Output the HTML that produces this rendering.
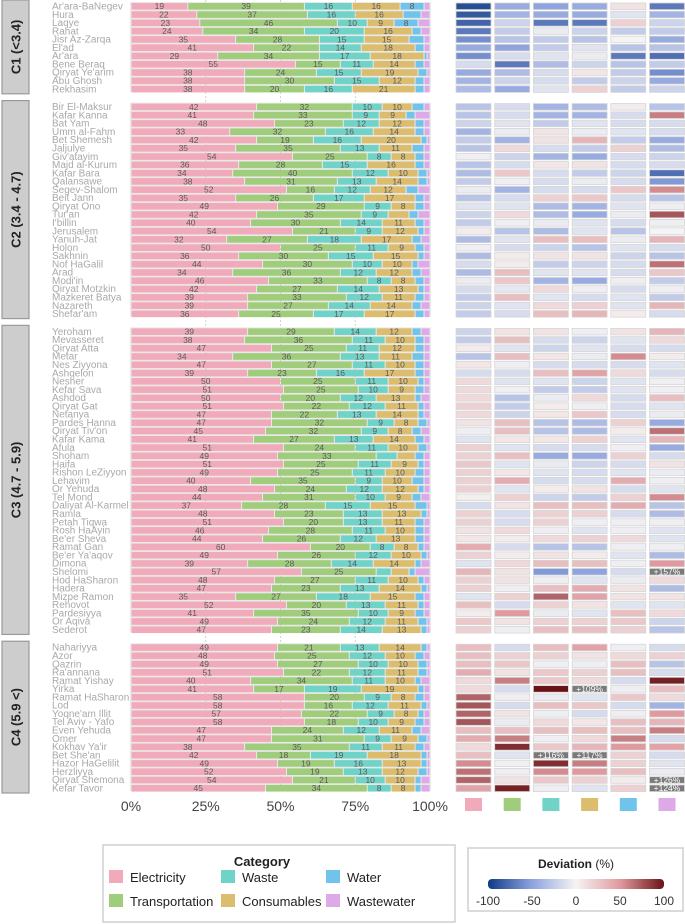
<!DOCTYPE html>
<html><head><meta charset="utf-8"><style>
html,body{margin:0;padding:0;background:#fff;}
svg{display:block;font-family:"Liberation Sans",sans-serif;}
</style></head><body>
<svg id="chart" width="685" height="924" viewBox="0 0 685 924"></svg>
<script>
const groupNames = ["C1   (<3.4)","C2   (3.4 - 4.7)","C3   (4.7 - 5.9)","C4   (5.9 <)"];
const groupSizes = [11,26,37,18];
const cities = ["Ar'ara-BaNegev","Hura","Laqye","Rahat","Jisr Az-Zarqa","El'ad","Ar'ara","Bene Beraq","Qiryat Ye'arim","Abu Ghosh","Rekhasim",
"Bir El-Maksur","Kafar Kanna","Bat Yam","Umm al-Fahm","Bet Shemesh","Jaljulye","Giv'atayim","Majd al-Kurum","Kafar Bara","Qalansawe","Segev-Shalom","Beit Jann","Qiryat Ono","Tur'an","I'billin","Jerusalem","Yanuh-Jat","Holon","Sakhnin","Nof HaGalil","Arad","Modi'in","Qiryat Motzkin","Mazkeret Batya","Nazareth","Shefar'am",
"Yeroham","Mevasseret","Qiryat Atta","Metar","Nes Ziyyona","Ashqelon","Nesher","Kefar Sava","Ashdod","Qiryat Gat","Netanya","Pardes Hanna","Qiryat Tiv'on","Kafar Kama","Afula","Shoham","Haifa","Rishon LeZiyyon","Lehavim","Or Yehuda","Tel Mond","Daliyat Al-Karmel","Ramla","Petah Tiqwa","Rosh HaAyin","Be'er Sheva","Ramat Gan","Be'er Ya'aqov","Dimona","Shelomi","Hod HaSharon","Hadera","Mizpe Ramon","Rehovot","Pardesiyya","Or Aqiva","Sederot",
"Nahariyya","Azor","Qazrin","Ra'annana","Ramat Yishay","Yirka","Ramat HaSharon","Lod","Yoqne'am Illit","Tel Aviv - Yafo","Even Yehuda","Omer","Kokhav Ya'ir","Bet She'an","Hazor HaGelilit","Herzliyya","Qiryat Shemona","Kefar Tavor"];
const categories = ["Electricity","Transportation","Waste","Consumables","Water","Wastewater"];
const shares = [
[19,39,16,16,8,2],[22,37,16,16,6,3],[23,46,10,9,8,4],[24,34,20,16,3,3],[35,28,15,15,5,2],[41,22,14,18,3,2],[29,34,17,18,1,1],[55,15,11,14,3,2],[38,24,15,19,3,1],[38,30,15,12,3,2],[38,20,16,21,3,2],
[42,32,10,10,4,2],[41,33,9,9,3,5],[48,23,12,12,3,2],[33,32,16,14,3,2],[42,19,16,20,2,1],[35,35,13,11,4,2],[54,25,8,8,3,2],[36,28,15,16,3,2],[34,40,12,10,3,1],[38,31,13,14,3,1],[52,16,12,12,4,4],[35,26,17,17,3,2],[49,29,9,8,3,2],[42,35,9,7,3,4],[40,30,14,11,3,2],[54,21,9,12,2,2],[32,27,18,17,3,3],[50,25,11,9,3,2],[36,30,15,15,2,2],[44,30,10,10,2,4],[34,36,12,12,3,3],[46,33,8,8,3,2],[42,27,14,13,2,2],[39,33,12,11,3,2],[39,27,14,14,3,3],[36,25,17,17,3,2],
[39,29,14,12,3,3],[38,36,11,10,3,2],[47,25,11,12,3,2],[34,36,13,11,4,2],[47,27,11,10,3,2],[39,23,16,17,3,2],[50,25,11,10,2,2],[51,25,10,9,3,2],[50,20,12,13,2,3],[51,22,12,11,2,2],[47,22,13,14,2,2],[47,32,9,8,3,1],[45,32,9,8,3,3],[41,27,13,14,3,2],[51,24,11,10,3,1],[49,33,7,6,3,2],[51,25,11,9,2,2],[49,25,11,10,3,2],[40,35,9,10,4,2],[48,24,12,12,2,2],[44,31,10,9,3,3],[37,28,15,15,4,1],[48,23,13,13,2,1],[51,20,13,11,3,2],[46,28,11,10,3,2],[44,26,12,13,3,2],[60,20,8,8,2,2],[49,26,12,10,2,1],[39,28,14,14,2,3],[57,25,5,6,2,5],[48,27,11,10,2,2],[47,23,13,14,2,1],[35,27,18,15,3,2],[52,20,13,11,2,2],[41,35,10,9,3,2],[49,24,12,11,3,1],[47,23,14,13,2,1],
[49,21,13,14,2,1],[48,25,12,10,3,2],[49,27,10,10,3,1],[51,22,12,11,3,1],[40,34,11,10,2,3],[41,17,19,19,2,2],[58,20,9,8,3,2],[58,16,12,11,2,1],[57,22,9,8,2,2],[58,18,10,9,3,2],[47,24,12,11,3,3],[47,31,9,9,3,1],[38,35,11,11,3,2],[42,18,19,18,2,1],[49,19,16,13,2,1],[52,19,13,12,3,1],[54,21,10,10,2,3],[45,34,8,8,2,3]];
const deviation = [
[-90,-45,-50,-45,10,-70],[-85,-40,-45,-45,-10,-40],[-80,-20,-70,-70,20,-20],[-70,-25,-5,-20,-25,-25],[-60,-30,-25,-30,0,-45],[-45,-50,-25,-10,-30,-30],[-60,-15,-10,-5,-70,-75],[-15,-70,-35,-20,-30,-25],[-45,-35,-15,8,-25,-60],[-40,-20,-15,-25,-20,-45],[-35,-45,-10,20,-25,-20],
[-30,-15,-40,-35,5,-30],[-30,-15,-40,-40,-15,60],[-20,-10,-25,-10,-15,-15],[-40,-5,10,-5,-10,-15],[-25,-40,10,35,-25,-45],[-30,15,-15,-25,20,-35],[-3,-20,-40,-45,-15,-20],[-30,-15,8,10,-15,-15],[-35,25,-15,-25,-20,-75],[-25,-3,-15,-5,-15,-55],[-5,-40,-15,-15,25,55],[-30,-15,20,25,-15,-30],[-10,-10,-35,-40,-10,-3],[-20,15,-35,-45,-5,75],[-25,-3,-5,-10,-15,-3],[5,-30,-35,-10,-30,0],[-35,-10,30,30,-5,35],[-3,-15,-20,-30,-10,-15],[-35,5,10,10,-20,-30],[-15,5,-25,-20,-15,65],[-35,30,-10,-10,-15,25],[-5,25,-40,-45,-3,-25],[-15,-8,15,-3,-15,-3],[-25,30,-10,-15,-10,-25],[-20,-10,15,20,-10,35],[-25,-15,30,35,5,-15],
[-20,10,10,-3,10,35],[-25,30,-15,-20,-10,15],[5,-10,-20,-10,-15,-15],[-30,30,8,-5,55,5],[8,-3,-15,-15,-15,-10],[-15,-15,30,45,15,-15],[15,-10,-10,-20,-10,-3],[15,-3,-25,-25,-10,-3],[15,-30,-5,15,-15,30],[20,-25,5,-3,-15,-10],[15,-20,8,25,-15,-5],[10,30,-30,-35,20,-45],[-3,30,-30,-35,5,65],[-10,8,8,20,-10,35],[20,-10,-15,-15,-3,-45],[20,30,-45,-45,20,-15],[25,-10,-5,-20,-15,10],[20,8,-10,-15,-10,-5],[20,40,-15,-15,40,-3],[20,-10,5,10,-15,-10],[3,20,-20,-25,20,55],[-15,10,30,30,40,-30],[20,-15,20,20,-15,-35],[20,-15,20,-3,-3,-3],[10,15,-3,-10,-3,-10],[8,5,15,20,15,-10],[40,-15,-30,-30,-3,-3],[20,5,10,5,-10,-35],[-10,15,30,30,-3,50],[35,10,-55,-50,-15,157],[20,10,-3,-10,-5,15],[20,-3,30,40,10,-35],[-10,20,70,45,10,10],[30,-15,20,10,-10,-10],[5,50,-5,-10,30,15],[25,10,20,20,25,-20],[20,-3,30,30,20,-30],
[30,-15,30,45,-3,-15],[30,20,20,10,15,20],[30,25,-3,-3,30,-30],[40,10,25,20,30,-15],[15,60,25,15,-15,95],[15,-15,100,109,-3,30],[70,-3,-5,-10,25,15],[75,-15,30,25,-15,-40],[70,10,-3,-15,-3,50],[75,-5,15,8,30,35],[30,30,30,30,30,60],[40,60,-3,15,60,-15],[15,90,25,35,50,45],[30,-10,116,117,20,-15],[55,-3,90,60,20,-10],[65,-3,55,50,30,-5],[70,10,25,20,5,126],[45,95,-3,-10,20,124]];
const xTicks = ["0%","25%","50%","75%","100%"];
const devTicks = [-100,-50,0,50,100];

const colors = ["#f0aab9","#9fcd7b","#6fd3c8","#dcbd6e","#70c4ec","#ddaae7"];
const NS = "http://www.w3.org/2000/svg";
const svg = document.getElementById('chart');
function mk(tag, attrs, parent){const e=document.createElementNS(NS,tag);for(const k in attrs)e.setAttribute(k,attrs[k]);(parent||svg).appendChild(e);return e;}
const X0=131, X1=430;
const xScale = v => X0 + (X1-X0)*v/100;
const Y0=6, PITCH=8.28, GAP=9.5;
function rowY(i){let g=0,acc=0;for(let k=0;k<groupSizes.length;k++){if(i>=acc+groupSizes[k]){acc+=groupSizes[k];g++;}else break;}return Y0+i*PITCH+g*GAP;}
function lerp(a,b,t){return Math.round(a+(b-a)*t);}
function hex(c){return [parseInt(c.slice(1,3),16),parseInt(c.slice(3,5),16),parseInt(c.slice(5,7),16)];}
const stops=[[-100,"#0f3a84"],[-50,"#8ea3df"],[0,"#f5f4f4"],[50,"#e09a9f"],[100,"#6a1216"]];
function devColor(v){v=Math.max(-100,Math.min(100,v));for(let k=0;k<stops.length-1;k++){if(v<=stops[k+1][0]){const t=(v-stops[k][0])/(stops[k+1][0]-stops[k][0]);const a=hex(stops[k][1]),b=hex(stops[k+1][1]);return `rgb(${lerp(a[0],b[0],t)},${lerp(a[1],b[1],t)},${lerp(a[2],b[2],t)})`;}}return stops[4][1];}

// group boxes
let start=0;
groupSizes.forEach((n,g)=>{
  const top=rowY(start)-6, bot=rowY(start+n-1)+5;
  const r=mk('rect',{x:2,y:top,width:27,height:bot-top,fill:'#cdcdcd',stroke:'#9a9a9a','stroke-width':1.2});
  
  
  const cy=(top+bot)/2;
  const t=mk('text',{x:16,y:cy,transform:`rotate(-90 16 ${cy})`,'text-anchor':'middle','dominant-baseline':'central','font-size':13,'font-weight':'bold',fill:'#222','xml:space':'preserve'});
  t.textContent=groupNames[g];
  
  
  // track background
  const bg=mk('rect',{x:X0-1,y:top+2,width:X1-X0+2,height:bot-top-4,fill:'#e9e9e9'});
  
  
  start+=n;
});
// gridlines
[25,50,75].forEach(v=>{
  const l=mk('line',{x1:xScale(v),x2:xScale(v),y1:0,y2:792,stroke:'#c8c8c8','stroke-dasharray':'2,2','stroke-width':0.8});
  
  
});
// rows
cities.forEach((c,i)=>{
  const y=rowY(i);
  const lab=mk('text',{x:52,y:y+3.5,'font-size':10,fill:'#a9a9a9'});
  lab.textContent=c;
  
  
  let acc=0;
  shares[i].forEach((v,k)=>{
    const x=xScale(acc), w=xScale(acc+v)-x;
    const r=mk('rect',{x:x+0.5,y:y-3,width:Math.max(0.5,w-1),height:6.6,fill:colors[k]});
    
    
    if(v>=8){
      const t=mk('text',{x:x+w/2,y:y+3.2,'text-anchor':'middle','font-size':8.5,fill:'#5a5a5a'});
      t.textContent=v;
      
      
    }
    acc+=v;
  });
  deviation[i].forEach((v,k)=>{
    const cx=456+k*38.7;
    const r=mk('rect',{x:cx,y:y-3,width:35,height:6.6,fill:v>100?'#7a7a7a':devColor(v),stroke:'#d6d6d6','stroke-width':0.8});
    
    
    if(v>100){
      const t=mk('text',{x:cx+17.5,y:y+3.2,'text-anchor':'middle','font-size':8.5,fill:'#fff'});
      t.textContent='+'+v+'%';
      
      
    }
  });
});
// x ticks
xTicks.forEach((s,k)=>{
  const t=mk('text',{x:xScale(k*25),y:811,'text-anchor':'middle','font-size':14,fill:'#444'});
  t.textContent=s;
  
  
});
// heatmap column keys
colors.forEach((c,k)=>{
  const r=mk('rect',{x:456+k*38.7+9,y:798,width:17,height:13,fill:c});
  
  
});
// category legend
const lb=mk('rect',{x:103,y:845,width:352,height:77,fill:'#fff',stroke:'#cfcfcf','stroke-width':1.5});


const lt=mk('text',{x:262,y:866,'text-anchor':'middle','font-size':13,'font-weight':'bold',fill:'#222'});
lt.textContent='Category';


const legOrder=[[0,109,878],[1,109,902],[2,221,878],[3,221,902],[4,326,878],[5,326,902]];
legOrder.forEach(([k,x,y])=>{
  const r=mk('rect',{x:x,y:y-8,width:14,height:13,fill:colors[k]});
  
  
  const t=mk('text',{x:x+21,y:y+4,'font-size':13,fill:'#222'});
  t.textContent=categories[k];
  
  
});
// deviation legend
const db=mk('rect',{x:468,y:848,width:215,height:63,fill:'#fff',stroke:'#cfcfcf','stroke-width':1.5});


const dt=mk('text',{x:576,y:868,'text-anchor':'middle','font-size':12,fill:'#222'});
dt.innerHTML='<tspan font-weight="bold">Deviation</tspan> (%)';


const defs=mk('defs',{});
const grad=mk('linearGradient',{id:'dg',x1:0,x2:1,y1:0,y2:0},defs);
stops.forEach(s=>mk('stop',{offset:((s[0]+100)/200),'stop-color':s[1]},grad));
const cb=mk('rect',{x:488,y:879,width:176,height:10,rx:4,fill:'url(#dg)'});


devTicks.forEach(v=>{
  const x=488+176*(v+100)/200;
  const t=mk('text',{x:x,y:905,'text-anchor':'middle','font-size':12,fill:'#333'});
  t.textContent=v;
  
  
});
</script>
</body></html>
